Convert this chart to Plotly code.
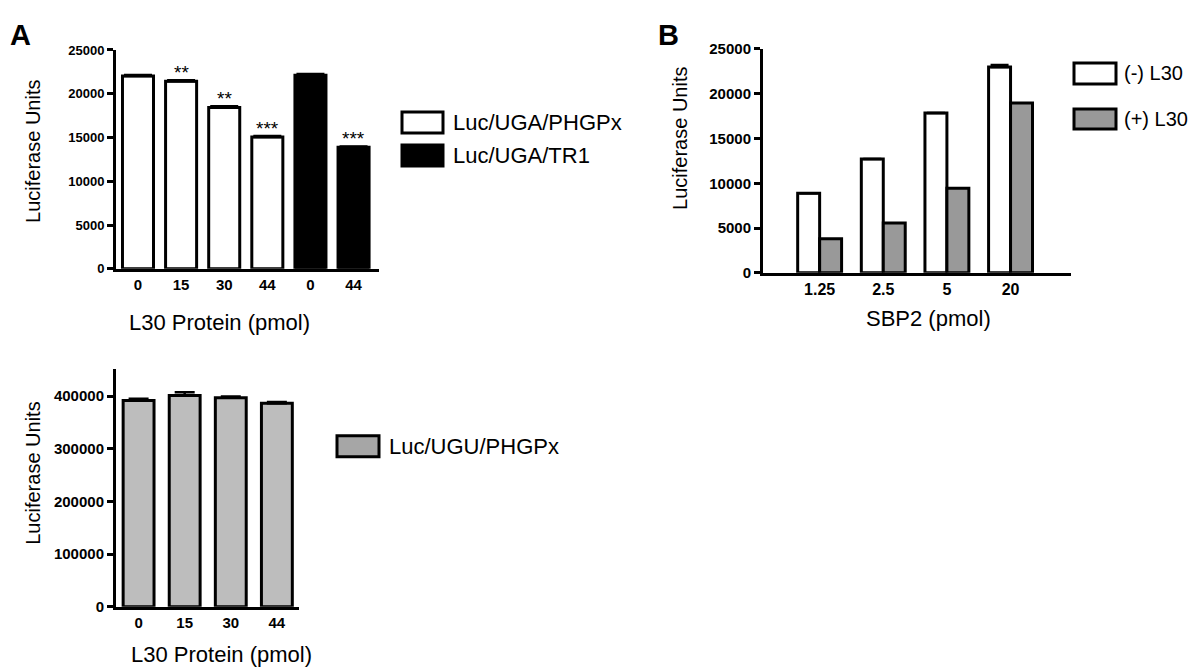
import plotly.graph_objects as go

# panel A (top left): L30 titration, Luc/UGA reporters
a_labels = ["0", "15", "30", "44", "0", "44"]
a_phgpx = [22030, 21430, 18420, 15070]
a_phgpx_err = [120, 120, 150, 100]
a_tr1 = [22100, 13900]
a_tr1_err = [150, 80]
a_stars = ["", "**", "**", "***", "", "***"]

# panel A (bottom): Luc/UGU control
c_labels = ["0", "15", "30", "44"]
c_ugu = [392000, 401500, 397000, 386500]
c_ugu_err = [3000, 6000, 2500, 2500]

# panel B: SBP2 titration
b_labels = ["1.25", "2.5", "5", "20"]
b_minus = [8880, 12720, 17860, 23000]
b_minus_err = [0, 0, 0, 200]
b_plus = [3800, 5580, 9440, 18970]

names_a = ["Luc/UGA/PHGPx", "Luc/UGA/TR1"]
names_b = ["(-) L30", "(+) L30"]
name_c = "Luc/UGU/PHGPx"

W, H = 1200, 667
# the page lands a little offset/squashed on screen, so map target pixels back
OX, OY, SY = 7, 16, 0.975
def px(x):
    return (x - OX) / W
def py(y):
    return 1 - (y - OY) / SY / H

FONT = "Liberation Sans, Arial, sans-serif"
GREY_B = "#999999"
GREY_C = "#bdbdbd"

def tickfont(size):
    return dict(family=FONT, size=size, color="black", weight="bold")

idx_a = list(range(len(a_labels)))

fig = go.Figure()

fig.add_trace(go.Bar(
    x=idx_a[:4], y=a_phgpx, width=0.72, offsetgroup="a",
    marker=dict(color="white", line=dict(color="black", width=3)),
    error_y=dict(type="data", symmetric=False, array=a_phgpx_err,
                 arrayminus=[0] * 4, color="black", thickness=2.5, width=14),
    xaxis="x", yaxis="y", showlegend=False, name=names_a[0]))
fig.add_trace(go.Bar(
    x=idx_a[4:], y=a_tr1, width=0.72, offsetgroup="a",
    marker=dict(color="black", line=dict(color="black", width=3)),
    error_y=dict(type="data", symmetric=False, array=a_tr1_err,
                 arrayminus=[0] * 2, color="black", thickness=2.5, width=14),
    xaxis="x", yaxis="y", showlegend=False, name=names_a[1]))

fig.add_trace(go.Bar(
    x=b_labels, y=b_minus, width=0.345, offset=-0.345,
    marker=dict(color="white", line=dict(color="black", width=3)),
    error_y=dict(type="data", symmetric=False, array=b_minus_err,
                 arrayminus=[0] * 4, color="black", thickness=2.5, width=9),
    xaxis="x2", yaxis="y2", showlegend=False, name=names_b[0]))
fig.add_trace(go.Bar(
    x=b_labels, y=b_plus, width=0.345, offset=0,
    marker=dict(color=GREY_B, line=dict(color="black", width=3)),
    xaxis="x2", yaxis="y2", showlegend=False, name=names_b[1]))

fig.add_trace(go.Bar(
    x=c_labels, y=c_ugu, width=0.67,
    marker=dict(color=GREY_C, line=dict(color="black", width=3)),
    error_y=dict(type="data", symmetric=False, array=c_ugu_err,
                 arrayminus=[0] * 4, color="black", thickness=2.5, width=10),
    xaxis="x3", yaxis="y3", showlegend=False, name=name_c))

axis_common = dict(showline=True, linecolor="black", linewidth=3,
                   showgrid=False, zeroline=False)
yaxis_common = dict(axis_common, ticks="outside", ticklen=6, tickwidth=2.5,
                    tickcolor="black", tickformat="d")

fig.update_layout(
    width=W, height=H, margin=dict(l=0, r=0, t=0, b=0),
    paper_bgcolor="white", plot_bgcolor="white", barmode="overlay",
    font=dict(family=FONT, color="black"),
    xaxis=dict(axis_common, domain=[px(115), px(378)], anchor="y",
               range=[-0.51, 5.59], tickvals=idx_a, ticktext=a_labels, ticks="",
               tickfont=tickfont(15)),
    yaxis=dict(yaxis_common, domain=[py(268), py(49)], anchor="x",
               range=[0, 25000], tickvals=list(range(0, 25001, 5000)),
               tickfont=tickfont(13)),
    xaxis2=dict(axis_common, domain=[px(762), px(1070)], anchor="y2",
                type="category", range=[-0.89, 3.95], ticks="",
                tickfont=tickfont(16)),
    yaxis2=dict(yaxis_common, domain=[py(272), py(48)], anchor="x2",
                range=[0, 25000], tickvals=list(range(0, 25001, 5000)),
                tickfont=tickfont(15)),
    xaxis3=dict(axis_common, domain=[px(115), px(298)], anchor="y3",
                type="category", range=[-0.49, 3.48], ticks="",
                tickfont=tickfont(15)),
    yaxis3=dict(yaxis_common, domain=[py(606), py(368)], anchor="x3",
                range=[0, 452000], tickvals=list(range(0, 400001, 100000)),
                tickfont=tickfont(15)),
)

# significance stars above panel A bars
for i, s in enumerate(a_stars):
    if not s:
        continue
    top = (a_phgpx + a_tr1)[i] + (a_phgpx_err + a_tr1_err)[i]
    fig.add_annotation(x=idx_a[i], y=top, xref="x", yref="y", text=s,
                       showarrow=False, yanchor="bottom", yshift=-5,
                       font=dict(family=FONT, size=19, color="black"))

def text(x, y, t, size, angle=0, xanchor="center", yanchor="middle", weight="normal"):
    fig.add_annotation(x=px(x), y=py(y), xref="paper", yref="paper", text=t,
                       showarrow=False, textangle=angle, xanchor=xanchor,
                       yanchor=yanchor,
                       font=dict(family=FONT, size=size, color="black", weight=weight))

# axis titles and panel letters
text(32, 151, "Luciferase Units", 20, angle=-90)
text(679, 138, "Luciferase Units", 20, angle=-90)
text(32, 473, "Luciferase Units", 20, angle=-90)
text(218, 322, "L30 Protein (pmol)", 22)
text(927, 318, "SBP2 (pmol)", 22)
text(220, 654, "L30 Protein (pmol)", 22)
text(OX, OY, "A", 29, xanchor="left", yanchor="top", weight="bold")
text(667, OY, "B", 29, yanchor="top", weight="bold")

# legends drawn as boxes with labels
def legend_item(x0, y0, x1, y1, fill, label, size=22, gap=8):
    fig.add_shape(type="rect", xref="paper", yref="paper",
                  x0=px(x0), x1=px(x1), y0=py(y1), y1=py(y0),
                  fillcolor=fill, line=dict(color="black", width=3))
    text(x1 + gap, (y0 + y1) / 2, label, size, xanchor="left")

legend_item(401, 111, 442, 132, "white", names_a[0])
legend_item(401, 144, 442, 165, "black", names_a[1])
legend_item(1073, 62, 1115, 83, "white", names_b[0], 20, 6)
legend_item(1073, 108, 1115, 128, GREY_B, names_b[1], 20, 6)
legend_item(336, 435, 378, 456, "#a6a6a6", name_c)

fig.write_html("out.html")
